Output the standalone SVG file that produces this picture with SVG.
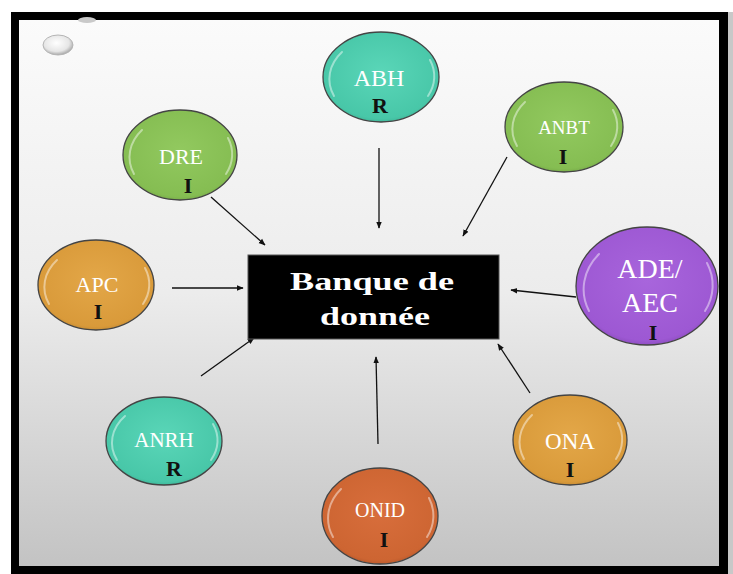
<svg xmlns="http://www.w3.org/2000/svg" width="733" height="574" viewBox="0 0 733 574">
<defs>
<linearGradient id="bg" x1="0" y1="0" x2="0" y2="1">
<stop offset="0" stop-color="#fbfbfb"/>
<stop offset="0.5" stop-color="#ececec"/>
<stop offset="1" stop-color="#c3c3c3"/>
</linearGradient>
<radialGradient id="teal" cx="0.5" cy="0.45" r="0.6"><stop offset="0" stop-color="#5ad6b8"/><stop offset="0.85" stop-color="#48c7a8"/><stop offset="1" stop-color="#3aa88c"/></radialGradient>
<radialGradient id="green" cx="0.5" cy="0.45" r="0.6"><stop offset="0" stop-color="#92c95f"/><stop offset="0.85" stop-color="#85bd52"/><stop offset="1" stop-color="#6e9e42"/></radialGradient>
<radialGradient id="gold" cx="0.5" cy="0.45" r="0.6"><stop offset="0" stop-color="#e3a748"/><stop offset="0.85" stop-color="#d99a3a"/><stop offset="1" stop-color="#b7802e"/></radialGradient>
<radialGradient id="purple" cx="0.5" cy="0.45" r="0.6"><stop offset="0" stop-color="#a865dc"/><stop offset="0.85" stop-color="#9d58d3"/><stop offset="1" stop-color="#8045b0"/></radialGradient>
<radialGradient id="orange" cx="0.5" cy="0.45" r="0.6"><stop offset="0" stop-color="#d86e3c"/><stop offset="0.85" stop-color="#cd6532"/><stop offset="1" stop-color="#a85028"/></radialGradient>
<radialGradient id="pearl" cx="0.45" cy="0.4" r="0.6"><stop offset="0" stop-color="#ffffff"/><stop offset="0.7" stop-color="#e6e6e6"/><stop offset="1" stop-color="#a8a8a8"/></radialGradient>
<marker id="ah" viewBox="0 0 10 10" refX="9" refY="5" markerWidth="7" markerHeight="7" orient="auto" markerUnits="userSpaceOnUse">
<path d="M0,1 L10,5 L0,9 Z" fill="#111"/>
</marker>
</defs>
<style>
.n{stroke:#444;stroke-width:1.3}
.gl{fill:none;stroke:#ffffff;stroke-opacity:0.45;stroke-width:2;stroke-linecap:round}
.lbl{font-family:"Liberation Serif","Times New Roman",serif;fill:#ffffff;text-anchor:middle}
.tag{font-family:"Liberation Serif","Times New Roman",serif;fill:#111;font-weight:bold;text-anchor:middle;font-size:22px}
.c{stroke:#111;stroke-width:1.3;fill:none;marker-end:url(#ah)}
.bq{font-family:"Liberation Serif","Times New Roman",serif;font-weight:bold;font-size:26px;fill:#fff}
</style>
<rect x="0" y="0" width="733" height="574" fill="#ffffff"/>
<rect x="728" y="12" width="5" height="562" fill="#c8c8c8"/>
<rect x="11" y="12" width="717" height="562" fill="#000"/>
<rect x="19" y="20" width="700" height="546" fill="url(#bg)"/>
<ellipse cx="58" cy="45" rx="15" ry="10" fill="url(#pearl)" stroke="#b5b5b5" stroke-width="1"/>
<ellipse cx="87" cy="20" rx="9" ry="3" fill="#c9c9c9"/>

<g id="connectors">
<line class="c" x1="379" y1="148" x2="379" y2="228"/>
<line class="c" x1="507" y1="157" x2="463" y2="236"/>
<line class="c" x1="211" y1="197" x2="265" y2="245"/>
<line class="c" x1="172" y1="288" x2="243" y2="288"/>
<line class="c" x1="576" y1="297" x2="511" y2="290"/>
<line class="c" x1="201" y1="376" x2="254" y2="338"/>
<line class="c" x1="378" y1="444" x2="376" y2="357"/>
<line class="c" x1="530" y1="393" x2="498" y2="344"/>
</g>

<g id="banque">
<rect x="248" y="255" width="251" height="84" fill="#000" stroke="#555" stroke-width="1"/>
<text class="bq" x="290" y="290" textLength="164" lengthAdjust="spacingAndGlyphs">Banque de</text>
<text class="bq" x="320" y="325" textLength="110" lengthAdjust="spacingAndGlyphs">donnée</text>
</g>

<g id="ABH">
<ellipse class="n" cx="381" cy="77" rx="58" ry="45" fill="url(#teal)"/>
<path class="gl" d="M334,96 A54,42 0 0 1 342,52"/>
<path class="gl" d="M430,60 A54,42 0 0 1 428,96"/>
<text class="lbl" x="379" y="86" font-size="24">ABH</text>
<text class="tag" x="380" y="113">R</text>
</g>

<g id="ANBT">
<ellipse class="n" cx="564" cy="127" rx="59" ry="45" fill="url(#green)"/>
<path class="gl" d="M517,146 A54,42 0 0 1 525,102"/>
<path class="gl" d="M613,110 A54,42 0 0 1 611,146"/>
<text class="lbl" x="564" y="134" font-size="19">ANBT</text>
<text class="tag" x="563" y="164">I</text>
</g>

<g id="DRE">
<ellipse class="n" cx="180" cy="155" rx="57" ry="45" fill="url(#green)"/>
<path class="gl" d="M134,174 A53,42 0 0 1 142,130"/>
<path class="gl" d="M228,138 A53,42 0 0 1 226,174"/>
<text class="lbl" x="181" y="164" font-size="22">DRE</text>
<text class="tag" x="188" y="193">I</text>
</g>

<g id="APC">
<ellipse class="n" cx="96" cy="285" rx="58" ry="45" fill="url(#gold)"/>
<path class="gl" d="M49,304 A54,42 0 0 1 57,260"/>
<path class="gl" d="M145,268 A54,42 0 0 1 143,304"/>
<text class="lbl" x="97" y="292" font-size="22">APC</text>
<text class="tag" x="98" y="319">I</text>
</g>

<g id="ADE">
<ellipse class="n" cx="647" cy="286" rx="71" ry="59" fill="url(#purple)"/>
<path class="gl" d="M589,311 A66,55 0 0 1 599,254"/>
<path class="gl" d="M707,263 A66,55 0 0 1 705,311"/>
<text class="lbl" x="650" y="278" font-size="28">ADE/</text>
<text class="lbl" x="650" y="312" font-size="28">AEC</text>
<text class="tag" x="653" y="340">I</text>
</g>

<g id="ANRH">
<ellipse class="n" cx="164" cy="441" rx="58" ry="44" fill="url(#teal)"/>
<path class="gl" d="M117,460 A54,41 0 0 1 125,416"/>
<path class="gl" d="M213,424 A54,41 0 0 1 211,460"/>
<text class="lbl" x="164" y="447" font-size="21">ANRH</text>
<text class="tag" x="174" y="476">R</text>
</g>

<g id="ONID">
<ellipse class="n" cx="380" cy="516" rx="58" ry="48" fill="url(#orange)"/>
<path class="gl" d="M333,537 A54,45 0 0 1 341,489"/>
<path class="gl" d="M429,498 A54,45 0 0 1 427,537"/>
<text class="lbl" x="380" y="517" font-size="20">ONID</text>
<text class="tag" x="384" y="547">I</text>
</g>

<g id="ONA">
<ellipse class="n" cx="570" cy="440" rx="57" ry="45" fill="url(#gold)"/>
<path class="gl" d="M524,459 A53,42 0 0 1 532,415"/>
<path class="gl" d="M618,423 A53,42 0 0 1 616,459"/>
<text class="lbl" x="570" y="449" font-size="23">ONA</text>
<text class="tag" x="570" y="477">I</text>
</g>
</svg>
